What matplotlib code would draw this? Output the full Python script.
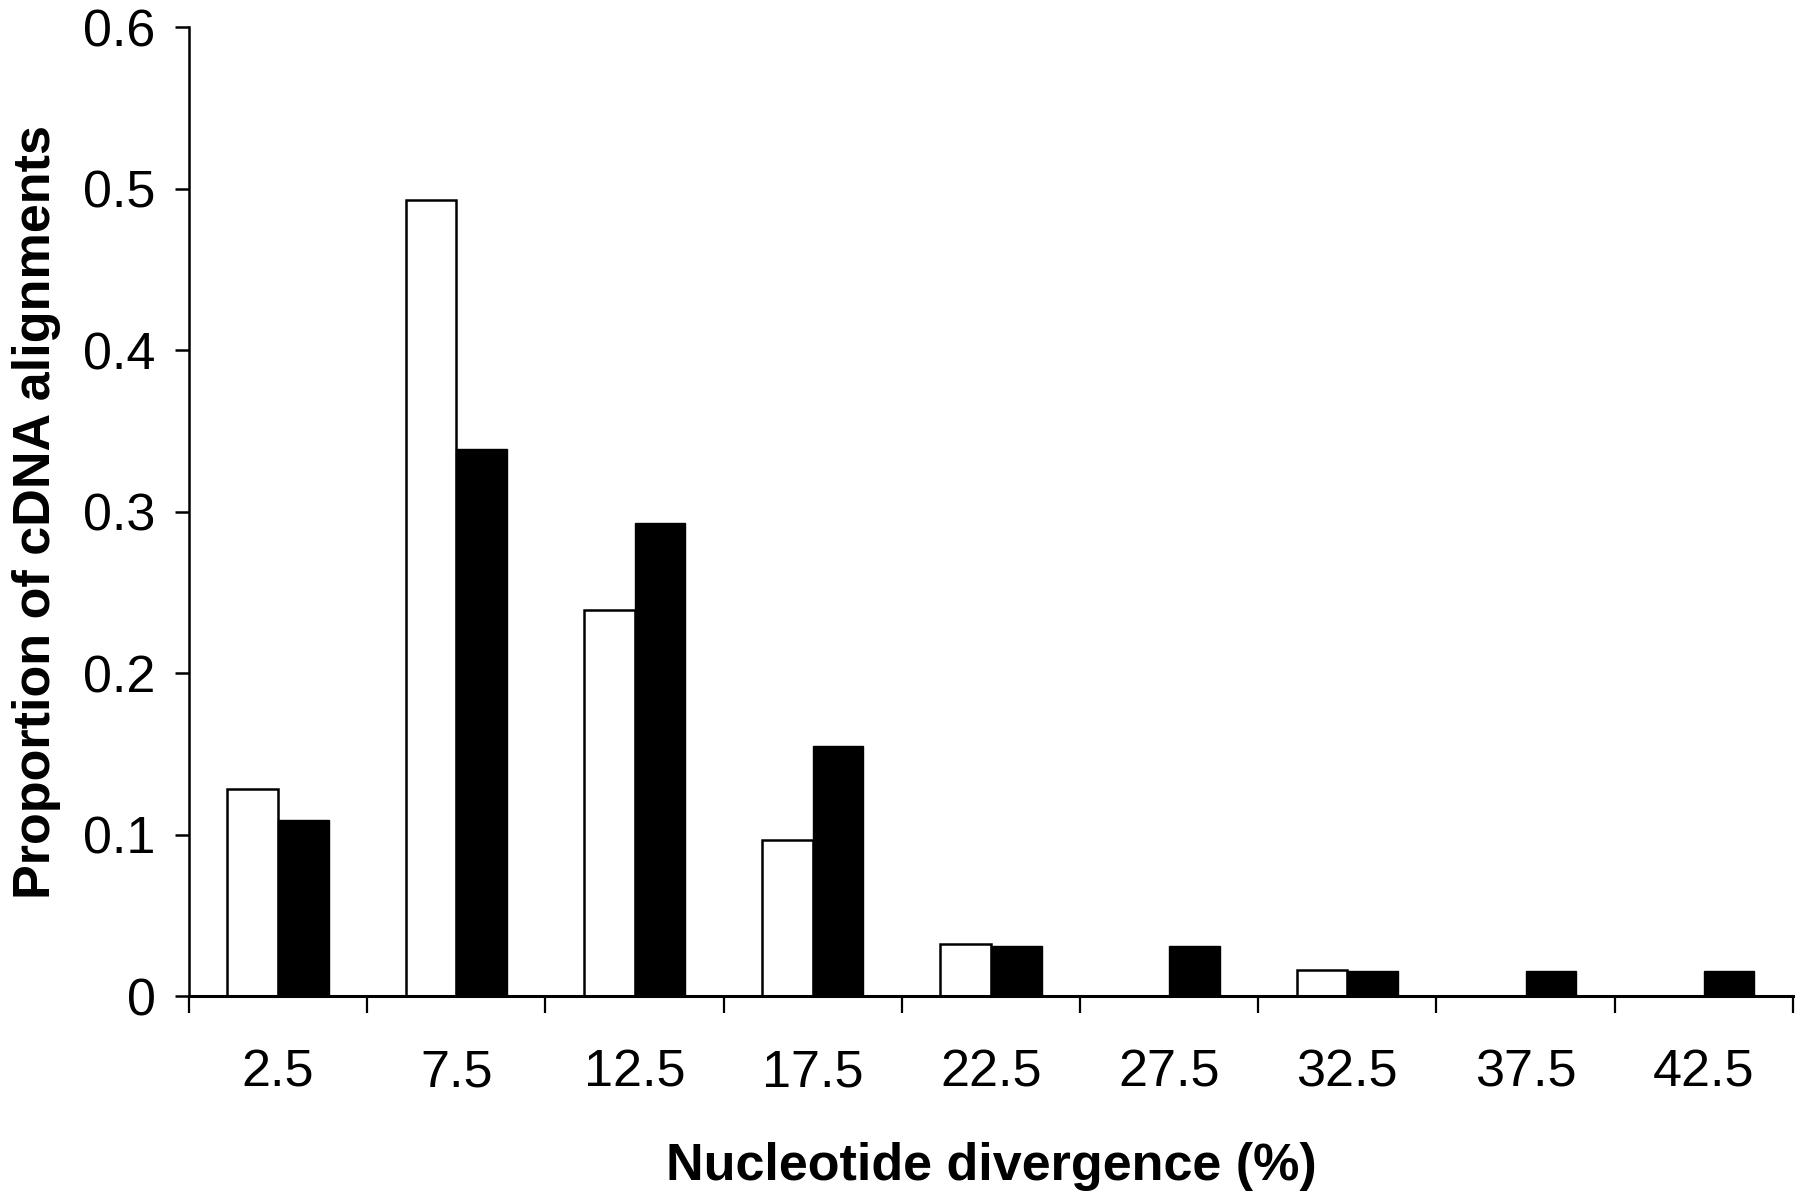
import numpy as np
import matplotlib
matplotlib.use("Agg")
import matplotlib.pyplot as plt
from matplotlib.ticker import FixedLocator, FixedFormatter

plt.rcParams['font.family'] = ['Liberation Sans', 'DejaVu Sans']

# divergence bins (%), bin centres used as labels
categories = ['2.5', '7.5', '12.5', '17.5', '22.5', '27.5', '32.5', '37.5', '42.5']
# open bars
white_vals = [0.128, 0.493, 0.239, 0.0965, 0.0325, 0.0, 0.0163, 0.0, 0.0]
# filled bars
black_vals = [0.109, 0.339, 0.293, 0.155, 0.0312, 0.031, 0.0157, 0.0157, 0.0157]
y_ticks = [0, 0.1, 0.2, 0.3, 0.4, 0.5, 0.6]
y_tick_labels = ['0', '0.1', '0.2', '0.3', '0.4', '0.5', '0.6']

fs = 37.5

fig = plt.figure(figsize=(18, 11.93), dpi=100)
ax = fig.add_axes([0.105, 0.165, 0.891, 0.812])

x = np.arange(len(categories))
w = 0.284
ax.bar(x - w / 2, white_vals, width=w, color='white', edgecolor='black',
       linewidth=1.8, zorder=2)
ax.bar(x + w / 2, black_vals, width=w, color='black', edgecolor='black',
       linewidth=1.0, zorder=2)

ax.set_xlim(-0.5, len(categories) - 0.5)
ax.set_ylim(0, 0.6)

# ticks at bin boundaries, labels at bin centres
ax.xaxis.set_major_locator(FixedLocator(np.arange(len(categories) + 1) - 0.5))
ax.xaxis.set_major_formatter(FixedFormatter([''] * (len(categories) + 1)))
ax.xaxis.set_minor_locator(FixedLocator(x))
ax.xaxis.set_minor_formatter(FixedFormatter(categories))
ax.tick_params(axis='x', which='major', direction='out', length=12, width=1.6)
ax.tick_params(axis='x', which='minor', length=0, pad=38, labelsize=fs)

ax.set_yticks(y_ticks)
ax.set_yticklabels(y_tick_labels)
ax.tick_params(axis='y', direction='out', length=10, width=1.8, pad=14, labelsize=fs)

for side in ['top', 'right']:
    ax.spines[side].set_visible(False)
ax.spines['left'].set_linewidth(1.8)
ax.spines['bottom'].set_linewidth(2.2)

ax.set_xlabel('Nucleotide divergence (%)', fontsize=fs, fontweight='bold', labelpad=32)
ax.set_ylabel('Proportion of cDNA alignments', fontsize=fs, fontweight='bold', labelpad=16)

fig.savefig('out.png', dpi=100)
